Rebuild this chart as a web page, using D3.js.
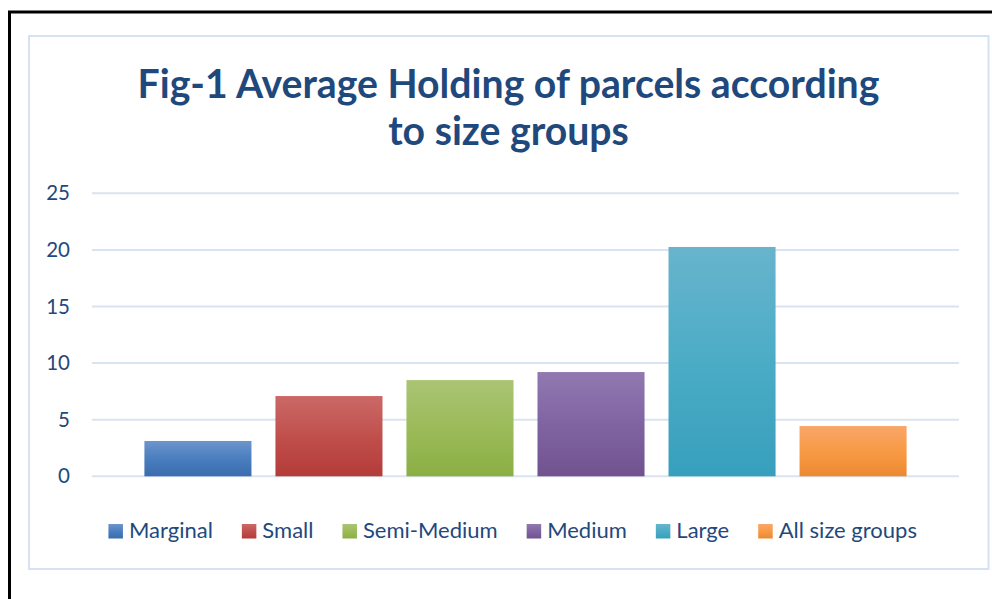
<!DOCTYPE html>
<html>
<head>
<meta charset="utf-8">
<script src="https://cdn.jsdelivr.net/npm/d3@7"></script>
<style>
  html, body { margin: 0; padding: 0; background: #fff; }
  svg { display: block; }
</style>
</head>
<body>
<svg id="chart" width="992" height="599"></svg>
<script>
// ---- data ----
const categories = ["Marginal", "Small", "Semi-Medium", "Medium", "Large", "All size groups"];
const values = [3.12, 7.09, 8.5, 9.21, 20.26, 4.44];
const yTicks = [0, 5, 10, 15, 20, 25];
const titleLines = ["Fig-1 Average Holding of parcels according", "to size groups"];
// gradient colours per category: [top, middle, bottom]
const palette = [
  ["#6d95cc", "#4a7ebf", "#3a6cae"],
  ["#cb6967", "#c0504d", "#b43b38"],
  ["#abc475", "#9bbb59", "#8bae44"],
  ["#9179b0", "#8064a2", "#71528f"],
  ["#68b4cd", "#4bacc6", "#379fbc"],
  ["#f9a669", "#f89a45", "#ec8931"]
];

const svg = d3.select("#chart");
const textColor = "#1f497d";
const gridColor = "#d9e3f1";
const font = "Lato, 'Open Sans', sans-serif";

// outer black frame
svg.append("rect").attr("x", 9.5).attr("y", 12).attr("width", 1000).attr("height", 700)
  .attr("fill", "none").attr("stroke", "#000").attr("stroke-width", 3);
// inner chart border
svg.append("rect").attr("x", 29).attr("y", 36).attr("width", 959.5).attr("height", 533)
  .attr("fill", "#fff").attr("stroke", "#d6e2f3").attr("stroke-width", 2);

// gradients
const defs = svg.append("defs");
palette.forEach((c, i) => {
  const g = defs.append("linearGradient").attr("id", "grad" + i)
    .attr("x1", 0).attr("y1", 0).attr("x2", 0).attr("y2", 1);
  g.append("stop").attr("offset", "0%").attr("stop-color", c[0]);
  g.append("stop").attr("offset", "50%").attr("stop-color", c[1]);
  g.append("stop").attr("offset", "100%").attr("stop-color", c[2]);
});

// title
svg.append("g").selectAll("text").data(titleLines).join("text")
  .attr("x", 508.5).attr("y", (d, i) => 97.5 + i * 47.5)
  .attr("text-anchor", "middle")
  .attr("font-family", font)
  .attr("font-weight", "bold").attr("font-size", 39.2)
  .attr("fill", textColor)
  .text(d => d);

// scales
const x = d3.scaleBand().domain(categories).range([92, 959])
  .paddingInner(0.183).paddingOuter(0.4);
const y = d3.scaleLinear().domain([0, 25]).range([476.3, 193.3]);

// gridlines
svg.append("g").selectAll("line").data(yTicks).join("line")
  .attr("x1", 92).attr("x2", 959)
  .attr("y1", d => y(d)).attr("y2", d => y(d))
  .attr("stroke", gridColor).attr("stroke-width", 2);

// y axis labels
const yAxis = d3.axisLeft(y).tickValues(yTicks).tickSize(0).tickPadding(0);
const ya = svg.append("g").attr("transform", "translate(70,0)").call(yAxis);
ya.select(".domain").remove();
ya.selectAll("text")
  .attr("font-family", font)
  .attr("font-size", 20.5).attr("fill", textColor);

// bars
svg.append("g").selectAll("rect").data(values).join("rect")
  .attr("x", (d, i) => x(categories[i]))
  .attr("width", x.bandwidth())
  .attr("y", d => y(d))
  .attr("height", d => y(0) - y(d))
  .attr("fill", (d, i) => `url(#grad${i})`);

// legend
const lg = svg.append("g");
const items = lg.selectAll("g").data(categories).join("g");
items.append("rect").attr("width", 14.5).attr("height", 14.5).attr("y", 524)
  .attr("fill", (d, i) => `url(#grad${i})`);
items.append("text").attr("x", 20.5).attr("y", 538)
  .attr("font-family", font)
  .attr("font-size", 22).attr("fill", textColor)
  .text(d => d);
let cx = 0;
const offsets = [];
items.each(function () {
  const w = d3.select(this).select("text").node().getComputedTextLength();
  offsets.push(cx);
  cx += 20.5 + w + 29;
});
const total = cx - 29;
const start = 512.7 - total / 2;
items.attr("transform", (d, i) => `translate(${start + offsets[i]},0)`);
</script>
</body>
</html>
